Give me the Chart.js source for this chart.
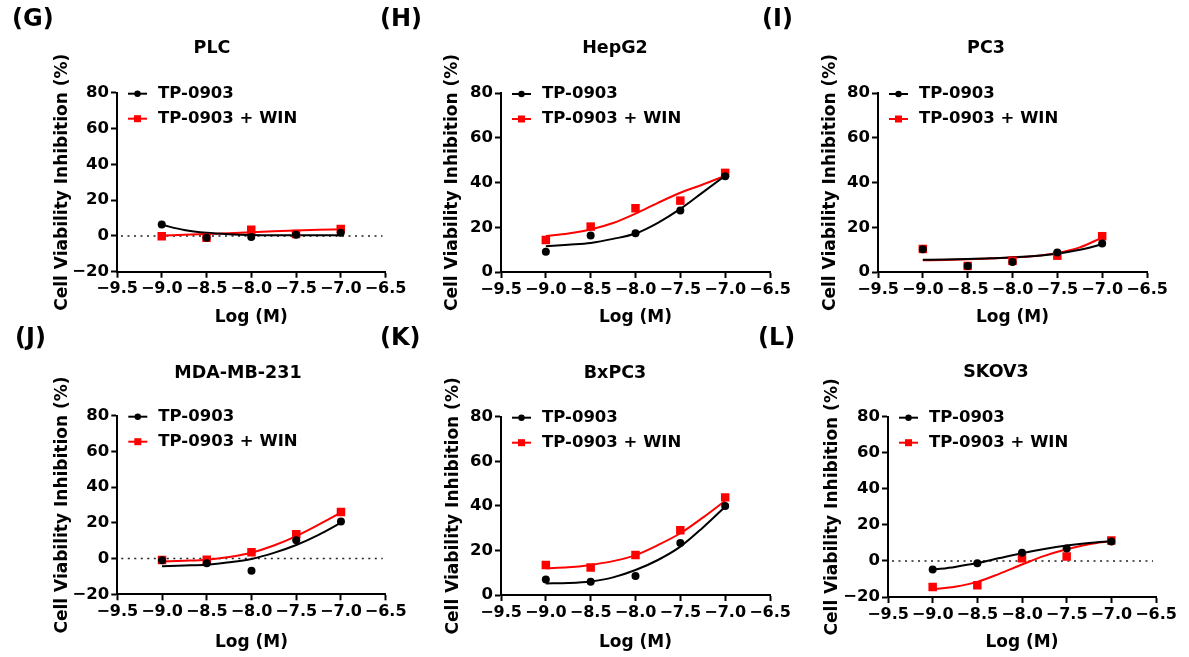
<!DOCTYPE html>
<html>
<head>
<meta charset="utf-8">
<script src="https://cdn.jsdelivr.net/npm/chart.js@4.4.1/dist/chart.umd.min.js"></script>
<style>
  html, body { margin: 0; padding: 0; background: #fff; }
  #wrap { position: relative; width: 1189px; height: 657px; overflow: hidden; }
  #wrap canvas { position: absolute; }
</style>
</head>
<body>
<div id="wrap"></div>
<script>
// log concentration (M) of the measured points and of the read-off fit curves
const doses = [-9, -8.5, -8, -7.5, -7];
const fitDoses = [-9, -8.75, -8.5, -8.25, -8, -7.75, -7.5, -7.25, -7];

const seriesNames = ['TP-0903', 'TP-0903 + WIN'];

// PLC
const plcTP = [6.4, -1.1, -0.6, 0.7, 1.7];
const plcWIN = [-0.2, -1.0, 3.5, 1.0, 3.9];
const plcTPFit = [6.2, 3.3, 1.7, 0.9, 0.5, 0.4, 0.4, 0.4, 0.4];
const plcWINFit = [0.2, 0.6, 1.0, 1.5, 2.1, 2.6, 3.0, 3.4, 3.7];

// HepG2
const hepTP = [9.0, 16.3, 17.3, 27.5, 42.8];
const hepWIN = [14.3, 20.3, 28.5, 31.9, 44.3];
const hepTPFit = [11.5, 12.2, 13.0, 14.8, 17.2, 22.0, 28.2, 35.6, 43.0];
const hepWINFit = [16.1, 17.2, 19.0, 21.9, 26.1, 30.9, 35.4, 39.1, 43.0];

// PC3
const pc3TP = [10.2, 2.7, 4.5, 8.7, 12.7];
const pc3WIN = [10.3, 2.7, 5.0, 7.3, 16.0];
const pc3TPFit = [5.5, 5.6, 5.8, 6.1, 6.6, 7.2, 8.2, 9.9, 12.4];
const pc3WINFit = [5.2, 5.4, 5.7, 6.0, 6.5, 7.2, 8.5, 11.0, 15.4];

// MDA-MB-231
const mdaTP = [-0.9, -2.6, -6.8, 10.2, 20.8];
const mdaWIN = [-0.8, -0.6, 3.5, 13.6, 26.1];
const mdaTPFit = [-4.3, -3.9, -3.4, -2.1, -0.2, 3.2, 7.6, 13.3, 20.1];
const mdaWINFit = [-1.6, -1.2, -0.6, 0.9, 3.3, 7.3, 12.6, 19.0, 25.8];

// BxPC3
const bxTP = [7.0, 6.0, 8.5, 23.3, 39.9];
const bxWIN = [13.5, 12.3, 17.9, 29.0, 43.8];
const bxTPFit = [5.2, 5.4, 6.1, 7.9, 11.2, 15.7, 21.7, 30.2, 39.6];
const bxWINFit = [12.0, 12.4, 13.5, 15.2, 17.9, 22.4, 27.7, 34.7, 42.3];

// SKOV3
const skTP = [-4.7, -1.3, 4.6, 6.9, 10.8];
const skWIN = [-14.4, -13.5, 1.5, 2.4, 11.4];
const skTPFit = [-4.9, -3.3, -1.2, 1.6, 4.3, 6.6, 8.5, 9.9, 10.9];
const skWINFit = [-15.7, -14.3, -11.6, -7.0, -2.0, 2.8, 6.5, 9.3, 11.0];

const FONT = '"DejaVu Sans", "Liberation Sans", Arial, sans-serif';
const RED = '#ff0000';
const BLACK = '#000000';

// where each panel sits on the page
const panels = [
  { tag: '(G)', name: 'PLC', tp: plcTP, win: plcWIN, tpFit: plcTPFit, winFit: plcWINFit, yMin: -20,
    canvas: [0, 0, 415, 335], area: [117, 92.7, 385.5, 271.7], yTitleX: 63, xTitleY: 318, title: [212, 48], label: [12, 20] },
  { tag: '(H)', name: 'HepG2', tp: hepTP, win: hepWIN, tpFit: hepTPFit, winFit: hepWINFit, yMin: 0,
    canvas: [375, 0, 425, 335], area: [501, 93, 770, 272], yTitleX: 453, xTitleY: 318, title: [615, 48], label: [380, 20] },
  { tag: '(I)', name: 'PC3', tp: pc3TP, win: pc3WIN, tpFit: pc3TPFit, winFit: pc3WINFit, yMin: 0,
    canvas: [755, 0, 434, 335], area: [878, 93, 1147, 272], yTitleX: 831, xTitleY: 318, title: [986, 48], label: [762, 20] },
  { tag: '(J)', name: 'MDA-MB-231', tp: mdaTP, win: mdaWIN, tpFit: mdaTPFit, winFit: mdaWINFit, yMin: -20,
    canvas: [0, 325, 415, 332], area: [117.3, 415.7, 385.7, 594.3], yTitleX: 63, xTitleY: 643, title: [238, 373], label: [15, 339] },
  { tag: '(K)', name: 'BxPC3', tp: bxTP, win: bxWIN, tpFit: bxTPFit, winFit: bxWINFit, yMin: 0,
    canvas: [375, 325, 425, 332], area: [501, 416.7, 770, 595], yTitleX: 453.3, xTitleY: 643, title: [615, 373], label: [380, 339] },
  { tag: '(L)', name: 'SKOV3', tp: skTP, win: skWIN, tpFit: skTPFit, winFit: skWINFit, yMin: -20,
    canvas: [755, 325, 434, 332], area: [888, 416.7, 1156, 597], yTitleX: 832.5, xTitleY: 643, title: [996, 372], label: [758, 339] }
];

const minus = v => (v < 0 ? '\u2212' : '');

// zero reference line, inside legend, panel tag and cell-line title
const panelDecor = {
  id: 'panelDecor',
  beforeDatasetsDraw(chart, args, opts) {
    if (!opts.zeroLine) return;
    const ctx = chart.ctx;
    const area = chart.chartArea;
    const y = chart.scales.y.getPixelForValue(0);
    ctx.save();
    ctx.strokeStyle = '#222';
    ctx.lineWidth = 1.5;
    ctx.setLineDash([2, 4.5]);
    ctx.beginPath();
    ctx.moveTo(area.left + 4, y);
    ctx.lineTo(area.right - 3, y);
    ctx.stroke();
    ctx.restore();
  },
  afterDraw(chart, args, opts) {
    const ctx = chart.ctx;
    const area = chart.chartArea;
    ctx.save();
    ctx.fillStyle = BLACK;
    ctx.textBaseline = 'middle';

    // legend
    ctx.font = 'bold 16.5px ' + FONT;
    const rows = [area.top + 1, area.top + 26];
    rows.forEach((ry, i) => {
      const color = i === 0 ? BLACK : RED;
      ctx.strokeStyle = color;
      ctx.fillStyle = color;
      ctx.lineWidth = 2;
      ctx.beginPath();
      ctx.moveTo(area.left + 11, ry);
      ctx.lineTo(area.left + 30, ry);
      ctx.stroke();
      if (i === 0) {
        ctx.beginPath();
        ctx.arc(area.left + 20.5, ry, 3.2, 0, Math.PI * 2);
        ctx.fill();
      } else {
        ctx.fillRect(area.left + 17, ry - 3.5, 7, 7);
      }
      ctx.fillStyle = BLACK;
      ctx.textAlign = 'left';
      ctx.fillText(chart.data.datasets[i].label, area.left + 41, ry);
    });

    // cell line title
    ctx.font = 'bold 17.5px ' + FONT;
    ctx.textAlign = 'center';
    ctx.fillText(opts.title, opts.titleX, opts.titleY);

    // panel tag
    ctx.font = 'bold 24px ' + FONT;
    ctx.textAlign = 'left';
    ctx.fillText(opts.tag, opts.labelX, opts.labelY);
    ctx.restore();
  }
};

const wrap = document.getElementById('wrap');

panels.forEach(p => {
  const [cl, ct, cw, ch] = p.canvas;
  const [L, T, R, B] = p.area;
  const canvas = document.createElement('canvas');
  canvas.width = cw;
  canvas.height = ch;
  canvas.style.left = cl + 'px';
  canvas.style.top = ct + 'px';
  canvas.style.width = cw + 'px';
  canvas.style.height = ch + 'px';
  wrap.appendChild(canvas);

  const yScaleLeft = p.yTitleX - 8.5;
  const xScaleBottom = p.xTitleY + 8.5;

  const tickFont = { family: FONT, size: 16.5, weight: 'bold' };
  const titleFont = { family: FONT, size: 17, weight: 'bold', lineHeight: 1 };

  new Chart(canvas, {
    type: 'scatter',
    data: {
      datasets: [
        {
          label: seriesNames[0],
          data: doses.map((x, i) => ({ x: x, y: p.tp[i] })),
          showLine: false,
          pointStyle: 'circle',
          pointRadius: 4,
          pointBorderWidth: 0,
          backgroundColor: BLACK,
          borderColor: BLACK,
          order: 0
        },
        {
          label: seriesNames[1],
          data: doses.map((x, i) => ({ x: x, y: p.win[i] })),
          showLine: false,
          pointStyle: 'rect',
          pointRadius: 6,
          pointBorderWidth: 0,
          backgroundColor: RED,
          borderColor: RED,
          order: 1
        },
        {
          label: seriesNames[0] + ' fit',
          data: fitDoses.map((x, i) => ({ x: x, y: p.tpFit[i] })),
          showLine: true,
          pointRadius: 0,
          borderColor: BLACK,
          borderWidth: 2,
          cubicInterpolationMode: 'monotone',
          order: 2
        },
        {
          label: seriesNames[1] + ' fit',
          data: fitDoses.map((x, i) => ({ x: x, y: p.winFit[i] })),
          showLine: true,
          pointRadius: 0,
          borderColor: RED,
          borderWidth: 2,
          cubicInterpolationMode: 'monotone',
          order: 3
        }
      ]
    },
    options: {
      responsive: false,
      animation: false,
      devicePixelRatio: 1,
      layout: {
        padding: {
          left: yScaleLeft - cl,
          top: T - ct,
          right: cl + cw - R,
          bottom: ct + ch - xScaleBottom
        }
      },
      plugins: {
        legend: { display: false },
        tooltip: { enabled: false },
        panelDecor: {
          zeroLine: p.yMin < 0,
          title: p.name,
          titleX: p.title[0] - cl,
          titleY: p.title[1] - ct,
          tag: p.tag,
          labelX: p.label[0] - cl,
          labelY: p.label[1] - ct
        }
      },
      scales: {
        x: {
          type: 'linear',
          min: -9.5,
          max: -6.5,
          afterFit: s => { s.height = xScaleBottom - B; },
          border: { display: true, color: BLACK, width: 2 },
          grid: { display: true, drawOnChartArea: false, drawTicks: true, tickLength: 6, tickWidth: 2, tickColor: BLACK },
          ticks: {
            stepSize: 0.5,
            autoSkip: false,
            maxRotation: 0,
            padding: 2,
            color: BLACK,
            font: { family: FONT, size: 16, weight: 'bold' },
            callback: v => minus(v) + Math.abs(v).toFixed(1)
          },
          title: { display: true, text: 'Log (M)', color: BLACK, font: titleFont, padding: 0 }
        },
        y: {
          min: p.yMin,
          max: 80,
          afterFit: s => { s.width = L - yScaleLeft; },
          border: { display: true, color: BLACK, width: 2 },
          grid: { display: true, drawOnChartArea: false, drawTicks: true, tickLength: 6, tickWidth: 2, tickColor: BLACK },
          ticks: {
            stepSize: 20,
            padding: 2,
            color: BLACK,
            font: tickFont,
            callback: v => minus(v) + Math.abs(v)
          },
          title: { display: true, text: 'Cell Viability Inhibition (%)', color: BLACK, font: titleFont, padding: 0 }
        }
      }
    },
    plugins: [panelDecor]
  });
});
</script>
</body>
</html>
